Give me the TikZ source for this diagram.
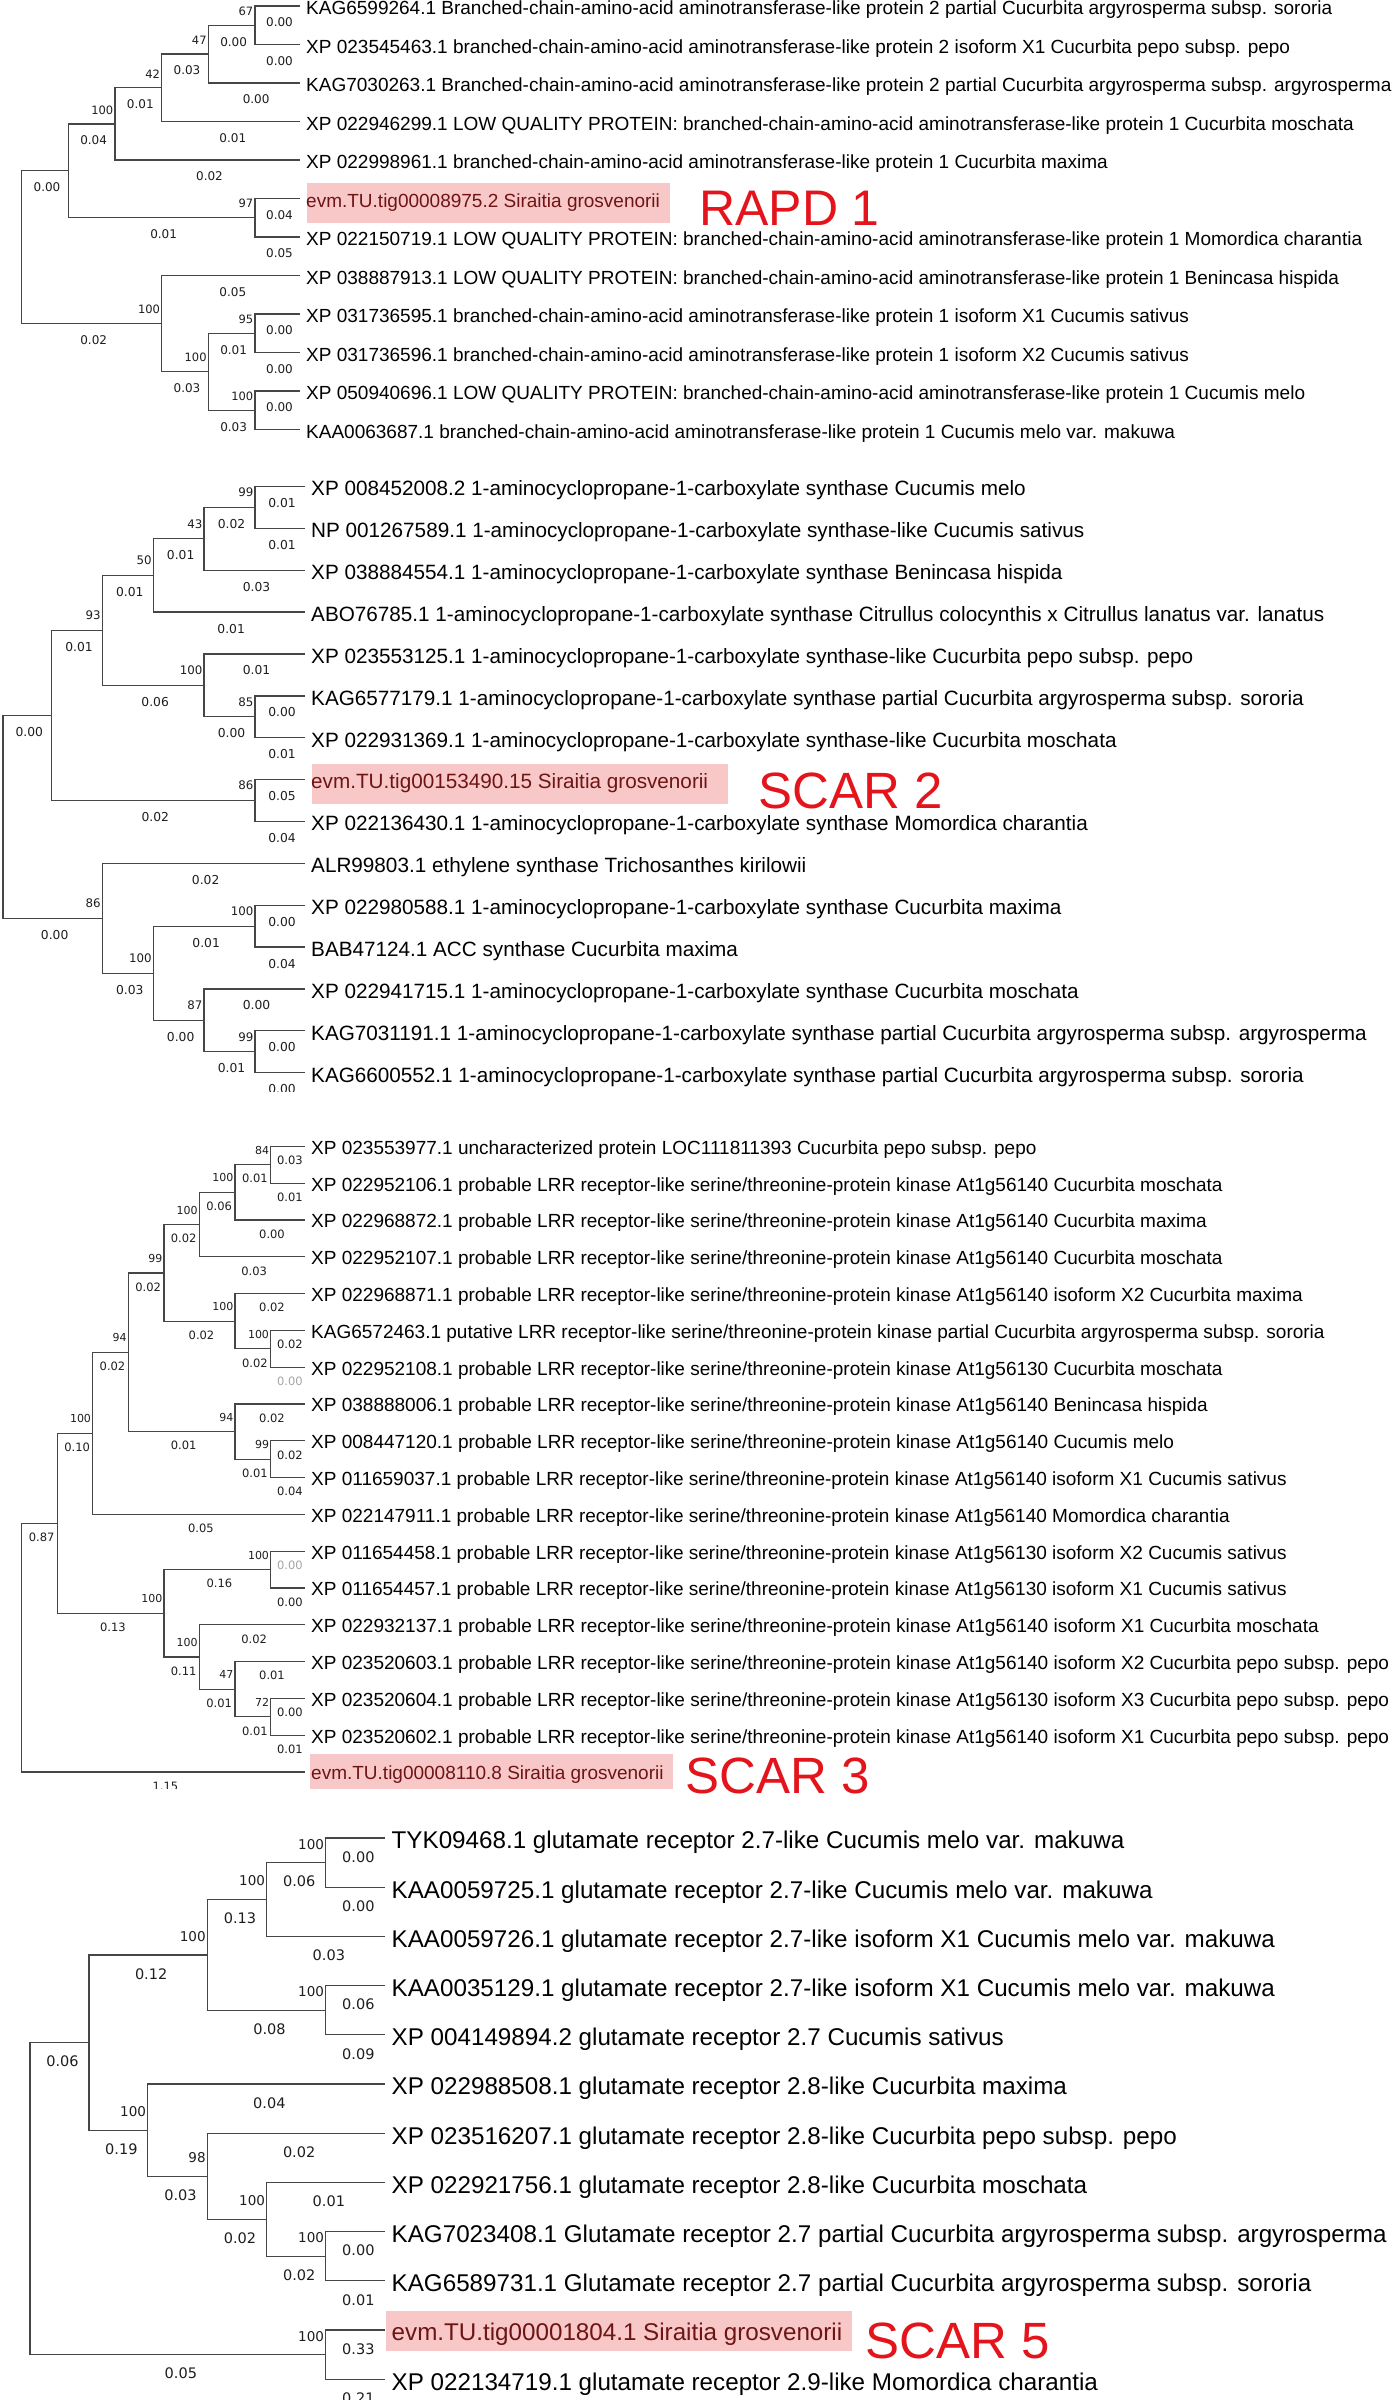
\documentclass[tikz,border=0pt]{standalone}
\usepackage{fontspec}
\setmainfont{Liberation Sans}
\newfontfamily\numf{DejaVu Sans}
\definecolor{ln}{RGB}{70,70,70}
\definecolor{nm}{RGB}{30,30,30}
\definecolor{grl}{RGB}{165,165,165}
\definecolor{hl}{RGB}{248,200,200}
\definecolor{ev}{RGB}{110,20,20}
\definecolor{rd}{RGB}{228,20,28}
\newcommand\Tip[3]{\coordinate (#1) at (#2); \node[lab] (#1l) at (#1) {#3};}
\newcommand\Br[3]{\draw[branch] (#1) |- (#2) node[blen] (#2e) {#3};}
\newcommand\Bs[2]{\node[boot] (#1b) at (#1) {#2};}
\begin{document}
\begin{tikzpicture}[x=1pt,y=-1pt,
  branch/.style={draw=ln,line width=1.3pt},
  big/.style={anchor=base west,inner sep=0,text=rd,font=\fontsize{51}{51}\selectfont},
  hlbox/.style={fill=hl}]
\useasboundingbox[fill=white] (0,0) rectangle (1396,2400);

%%%%%%%%%%%%%%%% Panel 1 %%%%%%%%%%%%%%%%
\begin{scope}[lab/.style={anchor=base west,inner sep=0,xshift=6pt,yshift=-8.8pt,font=\fontsize{19}{19}\selectfont},
  blen/.style={pos=0.75,inner sep=0,xshift=2pt,yshift=-16.5pt,text=nm,font=\numf\fontsize{12}{12}\selectfont},
  boot/.style={anchor=east,inner sep=0,xshift=-1.5pt,yshift=14pt,text=nm,font=\numf\fontsize{11.5}{11.5}\selectfont}]
\clip (0,0) rectangle (1396,441);
\fill[hlbox] (307,183.5) rectangle (670,223.5);
\Tip{a0}{300,6}{KAG6599264.1 Branched-chain-amino-acid aminotransferase-like protein 2 partial Cucurbita argyrosperma subsp. sororia}
\Tip{a1}{300,44.5}{XP 023545463.1 branched-chain-amino-acid aminotransferase-like protein 2 isoform X1 Cucurbita pepo subsp. pepo}
\Tip{a2}{300,83}{KAG7030263.1 Branched-chain-amino-acid aminotransferase-like protein 2 partial Cucurbita argyrosperma subsp. argyrosperma}
\Tip{a3}{300,121.5}{XP 022946299.1 LOW QUALITY PROTEIN: branched-chain-amino-acid aminotransferase-like protein 1 Cucurbita moschata}
\Tip{a4}{300,160}{XP 022998961.1 branched-chain-amino-acid aminotransferase-like protein 1 Cucurbita maxima}
\coordinate (a5) at (300,198.5); \node[lab,text=ev] (a5l) at (a5) {evm.TU.tig00008975.2 Siraitia grosvenorii};
\Tip{a6}{300,237}{XP 022150719.1 LOW QUALITY PROTEIN: branched-chain-amino-acid aminotransferase-like protein 1 Momordica charantia}
\Tip{a7}{300,275.5}{XP 038887913.1 LOW QUALITY PROTEIN: branched-chain-amino-acid aminotransferase-like protein 1 Benincasa hispida}
\Tip{a8}{300,314}{XP 031736595.1 branched-chain-amino-acid aminotransferase-like protein 1 isoform X1 Cucumis sativus}
\Tip{a9}{300,352.5}{XP 031736596.1 branched-chain-amino-acid aminotransferase-like protein 1 isoform X2 Cucumis sativus}
\Tip{a10}{300,391}{XP 050940696.1 LOW QUALITY PROTEIN: branched-chain-amino-acid aminotransferase-like protein 1 Cucumis melo}
\Tip{a11}{300,429.5}{KAA0063687.1 branched-chain-amino-acid aminotransferase-like protein 1 Cucumis melo var. makuwa}
\coordinate (aE) at (255,25.25);
\coordinate (aD) at (208.3,54.13);
\coordinate (aC) at (161.7,87.81);
\coordinate (aB) at (115,123.91);
\coordinate (aF) at (255,217.75);
\coordinate (aA) at (68.3,170.83);
\coordinate (aI) at (255,333.25);
\coordinate (aJ) at (255,410.25);
\coordinate (aH) at (208.3,371.75);
\coordinate (aG) at (161.7,323.63);
\coordinate (aR) at (21.7,247.23);
\Br{aR}{aA}{0.00} \Br{aR}{aG}{0.02}
\Br{aA}{aB}{0.04} \Br{aA}{aF}{0.01}
\Br{aB}{aC}{0.01} \Br{aB}{a4}{0.02}
\Br{aC}{aD}{0.03} \Br{aC}{a3}{0.01}
\Br{aD}{aE}{0.00} \Br{aD}{a2}{0.00}
\Br{aE}{a0}{0.00} \Br{aE}{a1}{0.00}
\Br{aF}{a5}{0.04} \Br{aF}{a6}{0.05}
\Br{aG}{a7}{0.05} \Br{aG}{aH}{0.03}
\Br{aH}{aI}{0.01} \Br{aH}{aJ}{0.03}
\Br{aI}{a8}{0.00} \Br{aI}{a9}{0.00}
\Br{aJ}{a10}{0.00} \draw[branch] (aJ) |- (a11);
\Bs{aE}{67} \Bs{aD}{47} \Bs{aC}{42} \Bs{aB}{100} \Bs{aF}{97}
\Bs{aG}{100} \Bs{aI}{95} \Bs{aH}{100} \Bs{aJ}{100}
\end{scope}
\node[big,font=\fontsize{50}{50}\selectfont] (rapd) at (699,225.5) {RAPD 1};

%%%%%%%%%%%%%%%% Panel 2 %%%%%%%%%%%%%%%%
\begin{scope}[lab/.style={anchor=base west,inner sep=0,xshift=6pt,yshift=-9.3pt,font=\fontsize{20.7}{20.7}\selectfont},
  blen/.style={pos=0.75,inner sep=0,xshift=2pt,yshift=-16.5pt,text=nm,font=\numf\fontsize{12.3}{12.3}\selectfont},
  boot/.style={anchor=east,inner sep=0,xshift=-1.5pt,yshift=15pt,text=nm,font=\numf\fontsize{11.8}{11.8}\selectfont}]
\clip (0,445) rectangle (1396,1091);
\fill[hlbox] (312,763.6) rectangle (728,803.6);
\Tip{b0}{305,486.5}{XP 008452008.2 1-aminocyclopropane-1-carboxylate synthase Cucumis melo}
\Tip{b1}{305,528.4}{NP 001267589.1 1-aminocyclopropane-1-carboxylate synthase-like Cucumis sativus}
\Tip{b2}{305,570.2}{XP 038884554.1 1-aminocyclopropane-1-carboxylate synthase Benincasa hispida}
\Tip{b3}{305,612.1}{ABO76785.1 1-aminocyclopropane-1-carboxylate synthase Citrullus colocynthis x Citrullus lanatus var. lanatus}
\Tip{b4}{305,654.0}{XP 023553125.1 1-aminocyclopropane-1-carboxylate synthase-like Cucurbita pepo subsp. pepo}
\Tip{b5}{305,695.9}{KAG6577179.1 1-aminocyclopropane-1-carboxylate synthase partial Cucurbita argyrosperma subsp. sororia}
\Tip{b6}{305,737.7}{XP 022931369.1 1-aminocyclopropane-1-carboxylate synthase-like Cucurbita moschata}
\coordinate (b7) at (305,779.6); \node[lab,text=ev] (b7l) at (b7) {evm.TU.tig00153490.15 Siraitia grosvenorii};
\Tip{b8}{305,821.5}{XP 022136430.1 1-aminocyclopropane-1-carboxylate synthase Momordica charantia}
\Tip{b9}{305,863.3}{ALR99803.1 ethylene synthase Trichosanthes kirilowii}
\Tip{b10}{305,905.2}{XP 022980588.1 1-aminocyclopropane-1-carboxylate synthase Cucurbita maxima}
\Tip{b11}{305,947.1}{BAB47124.1 ACC synthase Cucurbita maxima}
\Tip{b12}{305,988.9}{XP 022941715.1 1-aminocyclopropane-1-carboxylate synthase Cucurbita moschata}
\Tip{b13}{305,1030.8}{KAG7031191.1 1-aminocyclopropane-1-carboxylate synthase partial Cucurbita argyrosperma subsp. argyrosperma}
\Tip{b14}{305,1072.7}{KAG6600552.1 1-aminocyclopropane-1-carboxylate synthase partial Cucurbita argyrosperma subsp. sororia}
\coordinate (bN5) at (255,507.45);
\coordinate (bN4) at (204,538.83);
\coordinate (bN3) at (153.3,575.46);
\coordinate (bN7) at (255,716.8);
\coordinate (bN6) at (204,685.4);
\coordinate (bN2) at (102.3,630.43);
\coordinate (bN8) at (255,800.55);
\coordinate (bN1) at (51.7,715.49);
\coordinate (bN11) at (255,926.15);
\coordinate (bN13) at (255,1051.75);
\coordinate (bN12) at (204,1020.33);
\coordinate (bN10) at (153.3,973.24);
\coordinate (bN9) at (102.3,918.27);
\coordinate (bR) at (3,816.88);
\Br{bR}{bN1}{0.00} \Br{bR}{bN9}{0.00}
\Br{bN1}{bN2}{0.01} \Br{bN1}{bN8}{0.02}
\Br{bN2}{bN3}{0.01} \Br{bN2}{bN6}{0.06}
\Br{bN3}{bN4}{0.01} \Br{bN3}{b3}{0.01}
\Br{bN4}{bN5}{0.02} \Br{bN4}{b2}{0.03}
\Br{bN5}{b0}{0.01} \Br{bN5}{b1}{0.01}
\Br{bN6}{b4}{0.01} \Br{bN6}{bN7}{0.00}
\Br{bN7}{b5}{0.00} \Br{bN7}{b6}{0.01}
\Br{bN8}{b7}{0.05} \Br{bN8}{b8}{0.04}
\Br{bN9}{b9}{0.02} \Br{bN9}{bN10}{0.03}
\Br{bN10}{bN11}{0.01} \Br{bN10}{bN12}{0.00}
\Br{bN11}{b10}{0.00} \Br{bN11}{b11}{0.04}
\Br{bN12}{b12}{0.00} \Br{bN12}{bN13}{0.01}
\Br{bN13}{b13}{0.00} \Br{bN13}{b14}{0.00}
\Bs{bN5}{99} \Bs{bN4}{43} \Bs{bN3}{50} \Bs{bN2}{93} \Bs{bN6}{100} \Bs{bN7}{85}
\Bs{bN8}{86} \Bs{bN9}{86} \Bs{bN11}{100} \Bs{bN10}{100} \Bs{bN12}{87} \Bs{bN13}{99}
\end{scope}
\node[big] (scar2) at (758,808) {SCAR 2};

%%%%%%%%%%%%%%%% Panel 3 %%%%%%%%%%%%%%%%
\begin{scope}[lab/.style={anchor=base west,inner sep=0,xshift=6pt,yshift=-7.8pt,font=\fontsize{19}{19}\selectfont},
  blen/.style={pos=0.75,inner sep=0,xshift=2pt,yshift=-14pt,text=nm,font=\numf\fontsize{11.5}{11.5}\selectfont},
  boot/.style={anchor=east,inner sep=0,xshift=-1.5pt,yshift=14.5pt,text=nm,font=\numf\fontsize{11}{11}\selectfont}]
\clip (0,1110) rectangle (1396,1788);
\fill[hlbox] (310,1754) rectangle (672.5,1796);
\Tip{c0}{305,1146.4}{XP 023553977.1 uncharacterized protein LOC111811393 Cucurbita pepo subsp. pepo}
\Tip{c1}{305,1183.2}{XP 022952106.1 probable LRR receptor-like serine/threonine-protein kinase At1g56140 Cucurbita moschata}
\Tip{c2}{305,1220.0}{XP 022968872.1 probable LRR receptor-like serine/threonine-protein kinase At1g56140 Cucurbita maxima}
\Tip{c3}{305,1256.8}{XP 022952107.1 probable LRR receptor-like serine/threonine-protein kinase At1g56140 Cucurbita moschata}
\Tip{c4}{305,1293.6}{XP 022968871.1 probable LRR receptor-like serine/threonine-protein kinase At1g56140 isoform X2 Cucurbita maxima}
\Tip{c5}{305,1330.4}{KAG6572463.1 putative LRR receptor-like serine/threonine-protein kinase partial Cucurbita argyrosperma subsp. sororia}
\Tip{c6}{305,1367.2}{XP 022952108.1 probable LRR receptor-like serine/threonine-protein kinase At1g56130 Cucurbita moschata}
\Tip{c7}{305,1404.0}{XP 038888006.1 probable LRR receptor-like serine/threonine-protein kinase At1g56140 Benincasa hispida}
\Tip{c8}{305,1440.8}{XP 008447120.1 probable LRR receptor-like serine/threonine-protein kinase At1g56140 Cucumis melo}
\Tip{c9}{305,1477.6}{XP 011659037.1 probable LRR receptor-like serine/threonine-protein kinase At1g56140 isoform X1 Cucumis sativus}
\Tip{c10}{305,1514.4}{XP 022147911.1 probable LRR receptor-like serine/threonine-protein kinase At1g56140 Momordica charantia}
\Tip{c11}{305,1551.2}{XP 011654458.1 probable LRR receptor-like serine/threonine-protein kinase At1g56130 isoform X2 Cucumis sativus}
\Tip{c12}{305,1588.0}{XP 011654457.1 probable LRR receptor-like serine/threonine-protein kinase At1g56130 isoform X1 Cucumis sativus}
\Tip{c13}{305,1624.8}{XP 022932137.1 probable LRR receptor-like serine/threonine-protein kinase At1g56140 isoform X1 Cucurbita moschata}
\Tip{c14}{305,1661.6}{XP 023520603.1 probable LRR receptor-like serine/threonine-protein kinase At1g56140 isoform X2 Cucurbita pepo subsp. pepo}
\Tip{c15}{305,1698.4}{XP 023520604.1 probable LRR receptor-like serine/threonine-protein kinase At1g56130 isoform X3 Cucurbita pepo subsp. pepo}
\Tip{c16}{305,1735.2}{XP 023520602.1 probable LRR receptor-like serine/threonine-protein kinase At1g56140 isoform X1 Cucurbita pepo subsp. pepo}
\coordinate (c17) at (305,1772.0); \node[lab,text=ev] (c17l) at (c17) {evm.TU.tig00008110.8 Siraitia grosvenorii};
\coordinate (cM6a) at (270.7,1164.8);
\coordinate (cM6) at (235,1192.4);
\coordinate (cM5) at (199.3,1224.6);
\coordinate (cM8) at (270.7,1348.8);
\coordinate (cM7) at (235,1321.2);
\coordinate (cM4) at (164,1272.9);
\coordinate (cM10) at (270.7,1459.2);
\coordinate (cM9) at (235,1431.6);
\coordinate (cM3) at (128.3,1352.25);
\coordinate (cM2) at (92.7,1433.33);
\coordinate (cM13) at (270.7,1569.6);
\coordinate (cM16) at (270.7,1716.8);
\coordinate (cM15) at (235,1689.2);
\coordinate (cM14) at (199.3,1657.0);
\coordinate (cM12) at (164,1613.3);
\coordinate (cM1) at (57.7,1523.3);
\coordinate (cR) at (21.7,1647.65);
\Br{cR}{cM1}{0.87} \Br{cR}{c17}{1.15}
\Br{cM1}{cM2}{0.10} \Br{cM1}{cM12}{0.13}
\Br{cM2}{cM3}{0.02} \Br{cM2}{c10}{0.05}
\Br{cM3}{cM4}{0.02} \Br{cM3}{cM9}{0.01}
\Br{cM4}{cM5}{0.02} \Br{cM4}{cM7}{0.02}
\Br{cM5}{cM6}{0.06} \Br{cM5}{c3}{0.03}
\Br{cM6}{cM6a}{0.01} \Br{cM6}{c2}{0.00}
\Br{cM6a}{c0}{0.03} \Br{cM6a}{c1}{0.01}
\Br{cM7}{c4}{0.02} \Br{cM7}{cM8}{0.02}
\Br{cM8}{c5}{0.02} \draw[branch] (cM8) |- (c6) node[blen,text=grl] (c6e) {0.00};
\Br{cM9}{c7}{0.02} \Br{cM9}{cM10}{0.01}
\Br{cM10}{c8}{0.02} \Br{cM10}{c9}{0.04}
\Br{cM12}{cM13}{0.16} \Br{cM12}{cM14}{0.11}
\draw[branch] (cM13) |- (c11) node[blen,text=grl] (c11e) {0.00}; \Br{cM13}{c12}{0.00}
\Br{cM14}{c13}{0.02} \Br{cM14}{cM15}{0.01}
\Br{cM15}{c14}{0.01} \Br{cM15}{cM16}{0.01}
\Br{cM16}{c15}{0.00} \Br{cM16}{c16}{0.01}
\Bs{cM6a}{84} \Bs{cM6}{100} \Bs{cM5}{100} \Bs{cM4}{99} \Bs{cM3}{94} \Bs{cM2}{100}
\Bs{cM7}{100} \Bs{cM8}{100} \Bs{cM9}{94} \Bs{cM10}{99} \Bs{cM13}{100} \Bs{cM12}{100}
\Bs{cM14}{100} \Bs{cM15}{47} \Bs{cM16}{72}
\end{scope}
\node[big] (scar3) at (685,1793) {SCAR 3};

%%%%%%%%%%%%%%%% Panel 4 %%%%%%%%%%%%%%%%
\begin{scope}[lab/.style={anchor=base west,inner sep=0,xshift=6.5pt,yshift=-10.8pt,font=\fontsize{24.2}{24.2}\selectfont},
  blen/.style={pos=0.75,inner sep=0,xshift=3pt,yshift=-19pt,text=nm,font=\numf\fontsize{14.5}{14.5}\selectfont},
  boot/.style={anchor=east,inner sep=0,xshift=-1.5pt,yshift=18.5pt,text=nm,font=\numf\fontsize{13.5}{13.5}\selectfont}]
\fill[hlbox] (386,2311) rectangle (852,2351);
\Tip{d0}{385,1838}{TYK09468.1 glutamate receptor 2.7-like Cucumis melo var. makuwa}
\Tip{d1}{385,1887.2}{KAA0059725.1 glutamate receptor 2.7-like Cucumis melo var. makuwa}
\Tip{d2}{385,1936.4}{KAA0059726.1 glutamate receptor 2.7-like isoform X1 Cucumis melo var. makuwa}
\Tip{d3}{385,1985.6}{KAA0035129.1 glutamate receptor 2.7-like isoform X1 Cucumis melo var. makuwa}
\Tip{d4}{385,2034.8}{XP 004149894.2 glutamate receptor 2.7 Cucumis sativus}
\Tip{d5}{385,2084.0}{XP 022988508.1 glutamate receptor 2.8-like Cucurbita maxima}
\Tip{d6}{385,2133.2}{XP 023516207.1 glutamate receptor 2.8-like Cucurbita pepo subsp. pepo}
\Tip{d7}{385,2182.4}{XP 022921756.1 glutamate receptor 2.8-like Cucurbita moschata}
\Tip{d8}{385,2231.6}{KAG7023408.1 Glutamate receptor 2.7 partial Cucurbita argyrosperma subsp. argyrosperma}
\Tip{d9}{385,2280.8}{KAG6589731.1 Glutamate receptor 2.7 partial Cucurbita argyrosperma subsp. sororia}
\coordinate (d10) at (385,2330.0); \node[lab,text=ev] (d10l) at (d10) {evm.TU.tig00001804.1 Siraitia grosvenorii};
\Tip{d11}{385,2379.2}{XP 022134719.1 glutamate receptor 2.9-like Momordica charantia}
\coordinate (dP4) at (325.7,1862.6);
\coordinate (dP3) at (266.7,1899.5);
\coordinate (dP5) at (325.7,2010.2);
\coordinate (dP2) at (207.3,1954.85);
\coordinate (dP10) at (325.7,2256.2);
\coordinate (dP9) at (266.7,2219.3);
\coordinate (dP8) at (207.3,2176.25);
\coordinate (dP7) at (147.7,2130.13);
\coordinate (dP1) at (89,2042.49);
\coordinate (dP11) at (325.7,2354.6);
\coordinate (dR) at (30,2198.5);
\Br{dR}{dP1}{0.06} \Br{dR}{dP11}{0.05}
\Br{dP1}{dP2}{0.12} \Br{dP1}{dP7}{0.19}
\Br{dP2}{dP3}{0.13} \Br{dP2}{dP5}{0.08}
\Br{dP3}{dP4}{0.06} \Br{dP3}{d2}{0.03}
\Br{dP4}{d0}{0.00} \Br{dP4}{d1}{0.00}
\Br{dP5}{d3}{0.06} \Br{dP5}{d4}{0.09}
\Br{dP7}{d5}{0.04} \Br{dP7}{dP8}{0.03}
\Br{dP8}{d6}{0.02} \Br{dP8}{dP9}{0.02}
\Br{dP9}{d7}{0.01} \Br{dP9}{dP10}{0.02}
\Br{dP10}{d8}{0.00} \Br{dP10}{d9}{0.01}
\Br{dP11}{d10}{0.33} \Br{dP11}{d11}{0.21}
\Bs{dP4}{100} \Bs{dP3}{100} \Bs{dP2}{100} \Bs{dP5}{100} \Bs{dP7}{100}
\Bs{dP8}{98} \Bs{dP9}{100} \Bs{dP10}{100} \Bs{dP11}{100}
\end{scope}
\node[big] (scar5) at (865,2358) {SCAR 5};
\end{tikzpicture}
\end{document}
